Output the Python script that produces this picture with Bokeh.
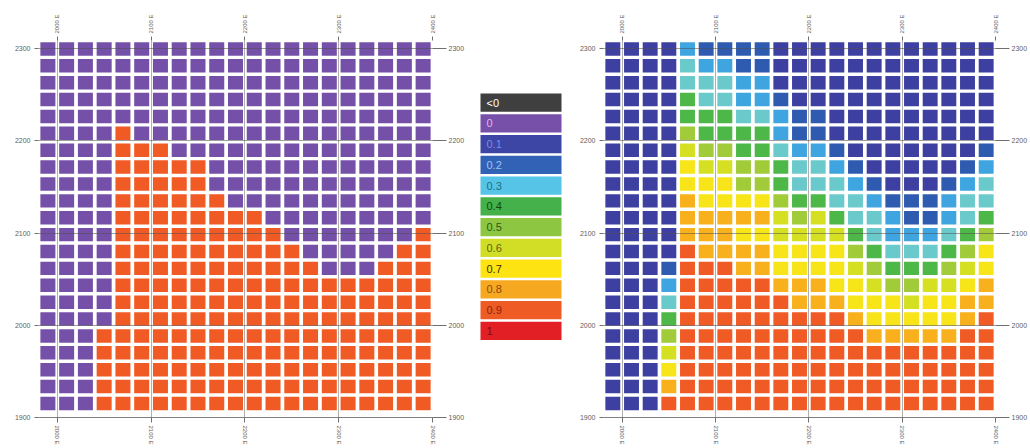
from bokeh.plotting import figure
from bokeh.models import ColumnDataSource, FixedTicker, Range1d, LinearAxis, Grid
from bokeh.layouts import row
from bokeh.embed import file_html
from bokeh.resources import INLINE
from bokeh.core.properties import value

# ---------------- data ----------------
x_ticks = [2000, 2100, 2200, 2300, 2400]
x_tick_labels = ["2000 E", "2100 E", "2200 E", "2300 E", "2400 E"]
y_ticks = [1900, 2000, 2100, 2200, 2300]
y_tick_labels = ["1900", "2000", "2100", "2200", "2300"]

legend_labels = ["<0", "0", "0.1", "0.2", "0.3", "0.4", "0.5", "0.6", "0.7", "0.8", "0.9", "1"]
legend_colors = ["#3F3F3F", "#7650A9", "#3D45A5", "#3262B6", "#56C4E6", "#45B14A",
                 "#8DC641", "#D2DE25", "#FCE311", "#F6A821", "#EF5B25", "#E31F26"]
legend_text_colors = ["#FFFFFF", "#E2B5E8", "#7D8BE0", "#9CC3F2", "#1E6E86", "#0F4A12",
                      "#2B5A1A", "#5E6312", "#3A2E00", "#8A4A0C", "#87260C", "#7A0C0C"]

# cell codes -> values
code_values = {"P": 0.0, "A": 0.1, "B": 0.2, "S": 0.25, "C": 0.3, "G": 0.4,
               "L": 0.5, "M": 0.6, "Y": 0.7, "N": 0.8, "O": 0.9}
value_colors = {0.0: "#7450A8", 0.1: "#3D40A0", 0.2: "#2E5AB0", 0.25: "#3EA5E0",
                0.3: "#6ACACB", 0.4: "#4DB748", 0.5: "#A2CB3A", 0.6: "#D6E022",
                0.7: "#F7E519", 0.8: "#F8B11C", 0.9: "#F05A24"}

# left model, rows from top (north) to bottom, 21 columns each
left_rows = [
    "PPPPPPPPPPPPPPPPPPPPP",
    "PPPPPPPPPPPPPPPPPPPPP",
    "PPPPPPPPPPPPPPPPPPPPP",
    "PPPPPPPPPPPPPPPPPPPPP",
    "PPPPPPPPPPPPPPPPPPPPP",
    "PPPPOPPPPPPPPPPPPPPPP",
    "PPPPOOOPPPPPPPPPPPPPP",
    "PPPPOOOOOPPPPPPPPPPPP",
    "PPPPOOOOOPPPPPPPPPPPP",
    "PPPPOOOOOOPPPPPPPPPPP",
    "PPPPOOOOOOOOPPPPPPPPP",
    "PPPPOOOOOOOOOPPPPPPPO",
    "PPPPOOOOOOOOOOPPPPPOO",
    "PPPPOOOOOOOOOOOPPPOOO",
    "PPPPOOOOOOOOOOOOOOOOO",
    "PPPPOOOOOOOOOOOOOOOOO",
    "PPPPOOOOOOOOOOOOOOOOO",
    "PPPOOOOOOOOOOOOOOOOOO",
    "PPPOOOOOOOOOOOOOOOOOO",
    "PPPOOOOOOOOOOOOOOOOOO",
    "PPPOOOOOOOOOOOOOOOOOO",
    "PPPOOOOOOOOOOOOOOOOOO",
]

# right model
right_rows = [
    "AAAASBBBBAAAAAAAAAAAA",
    "AAAACSSBBAAAAAAAAAAAA",
    "AAAACCCSSAAAAAAAAAAAA",
    "AAAAGCCSSBAAAAAAAAAAA",
    "AAAAGGGCCSBBAAAAAAAAA",
    "AAAALGGGGSBBAAAAAAAAA",
    "AAAAMLLGGCSSBAAAAAAAB",
    "AAAAYMMLLGCCSBAAAAABS",
    "AAAAYYYLLGCCCSBAAABSC",
    "AAAANYYYYLGGCCSBBBSCC",
    "AAAANNNNNMLMGCCSBBSCG",
    "AAAANNNYYMMMMGCSSSCGL",
    "AAAAONNNNYYYYLGCCCGLY",
    "AAABOOONNYYYYMLGGGLMY",
    "AAASOOOOONNNYYMLLMMYN",
    "AAACOOOOOONNNYYYMYYNN",
    "AAAGOOOOOOOOONYYYYYNO",
    "AAALOOOOOOOOOONNNNNOO",
    "AAAMOOOOOOOOOOOOOOOOO",
    "AAAYOOOOOOOOOOOOOOOOO",
    "AAANOOOOOOOOOOOOOOOOO",
    "AAAOOOOOOOOOOOOOOOOOO",
]

# ---------------- geometry / style ----------------
CELL_W = 20.0
CELL_H = 18.3
X0 = 1980.0
Y_TOP = 2308.7
FIG_H = 448
B_TOP = 40
B_BOTTOM = 31
FONT = value("Liberation Sans")


def cell_source(rows):
    xs, ys, vals, cols = [], [], [], []
    for r, line in enumerate(rows):
        for c, code in enumerate(line):
            v = code_values[code]
            xs.append(X0 + (c + 0.5) * CELL_W)
            ys.append(Y_TOP - (r + 0.5) * CELL_H)
            vals.append(v)
            cols.append(value_colors[v])
    return ColumnDataSource(dict(x=xs, y=ys, v=vals, color=cols))


def style_axis(ax, tick_out, standoff, size="7px"):
    ax.axis_line_color = None
    ax.major_tick_line_color = "#707070"
    ax.major_tick_in = 0
    ax.major_tick_out = tick_out
    ax.minor_tick_line_color = None
    ax.major_label_standoff = standoff
    ax.major_label_text_font = "Liberation Sans"
    ax.major_label_text_font_size = size
    ax.major_label_text_color = "#606060"


def make_panel(rows, fig_w, b_left, b_right, right_tick_out):
    p = figure(width=fig_w, height=FIG_H,
               x_range=Range1d(X0, X0 + 21 * CELL_W),
               y_range=Range1d(1900, Y_TOP),
               x_axis_type=None, y_axis_type=None,
               output_backend="svg", toolbar_location=None,
               min_border_left=b_left, min_border_right=b_right,
               min_border_top=B_TOP, min_border_bottom=B_BOTTOM)
    p.outline_line_color = None
    p.background_fill_color = "white"

    src = cell_source(rows)
    p.rect(x="x", y="y", width=16.0, height=14.6, source=src,
           fill_color="color", line_color=None)

    ylabels = dict(zip(y_ticks, y_tick_labels))
    xlabels = dict(zip(x_ticks, x_tick_labels))

    ax_l = LinearAxis(ticker=FixedTicker(ticks=y_ticks), major_label_overrides=ylabels)
    style_axis(ax_l, 4, 4)
    p.add_layout(ax_l, "left")

    ax_r = LinearAxis(ticker=FixedTicker(ticks=y_ticks), major_label_overrides=ylabels)
    style_axis(ax_r, right_tick_out, 2)
    p.add_layout(ax_r, "right")

    ax_t = LinearAxis(ticker=FixedTicker(ticks=x_ticks), major_label_overrides=xlabels)
    style_axis(ax_t, 4, 3, "6px")
    ax_t.major_label_orientation = "vertical"
    p.add_layout(ax_t, "above")

    ax_b = LinearAxis(ticker=FixedTicker(ticks=x_ticks), major_label_overrides=xlabels)
    style_axis(ax_b, 5, 3, "6px")
    ax_b.major_label_orientation = "vertical"
    ax_b.axis_line_color = "#808080"
    p.add_layout(ax_b, "below")

    gx = Grid(dimension=0, ticker=FixedTicker(ticks=x_ticks),
              grid_line_color="#505050", grid_line_alpha=0.45, level="annotation")
    gy = Grid(dimension=1, ticker=FixedTicker(ticks=y_ticks),
              grid_line_color="#505050", grid_line_alpha=0.55, level="annotation")
    p.add_layout(gx)
    p.add_layout(gy)
    return p


left = make_panel(left_rows, 475, 38, 43, 14)
right = make_panel(right_rows, 457, 30, 35, 14)

# ---------------- legend ----------------
PITCH = 20.75
FRAME_H = FIG_H - B_TOP - B_BOTTOM
top_units = (102.15 - B_TOP) / PITCH
leg = figure(width=98, height=FIG_H,
             x_range=Range1d(0, 98),
             y_range=Range1d(top_units - FRAME_H / PITCH, top_units),
             x_axis_type=None, y_axis_type=None,
             output_backend="svg", toolbar_location=None,
             min_border_left=0, min_border_right=0,
             min_border_top=B_TOP, min_border_bottom=B_BOTTOM)
leg.outline_line_color = None
lsrc = ColumnDataSource(dict(
    y=[-i for i in range(len(legend_labels))],
    label=legend_labels, color=legend_colors, tcolor=legend_text_colors))
leg.rect(x=45.5, y="y", width=81, height=0.88, source=lsrc,
         fill_color="color", line_color=None)
leg.text(x=11, y="y", text="label", source=lsrc, text_color="tcolor",
         text_font=FONT, text_font_size="11px", text_baseline="middle",
         text_align="left")

layout = row(left, leg, right)

open("out.html", "w").write(file_html(layout, INLINE))
